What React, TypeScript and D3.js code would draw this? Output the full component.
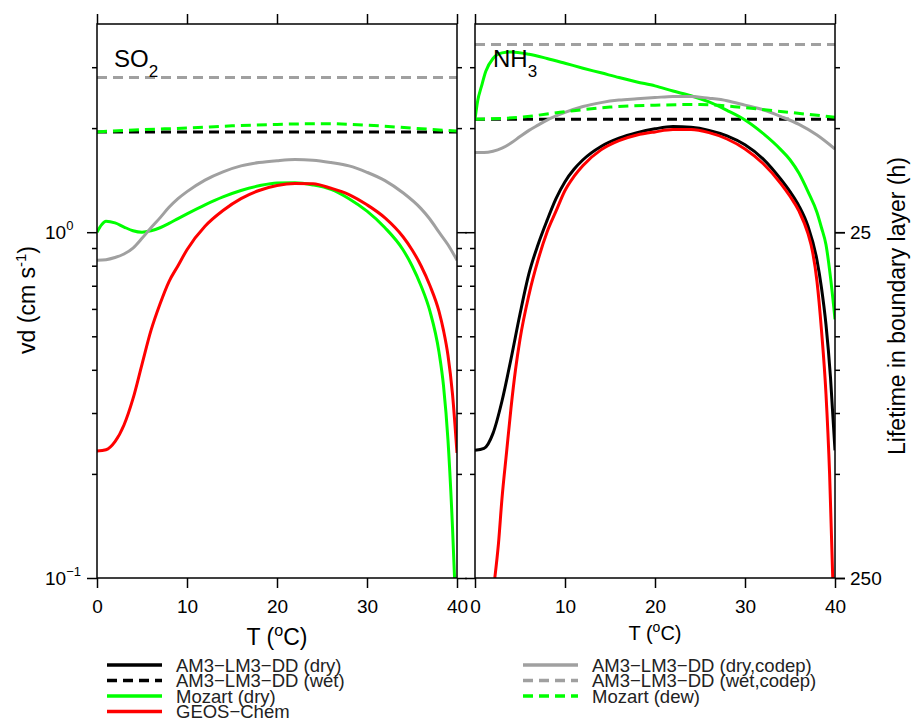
import React, { useEffect, useRef } from 'react';
import * as d3 from 'd3';

// temperature ticks and vd ticks
const tempTicks = [0, 10, 20, 30, 40];
const vdMajor = [0.1, 1];
const vdMinor = [0.2, 0.3, 0.4, 0.5, 0.6, 0.7, 0.8, 0.9, 2, 3];
const lifetimeLabels = ['250', '25'];

// SO2 panel
const so2GeosT = [0, 1, 2, 3, 4, 5, 6, 7, 8, 9, 10, 12, 14, 16, 18, 20, 22, 24, 26, 28, 30, 32, 34, 35, 36, 37, 38, 38.5, 39, 39.5, 40];
const so2GeosV = [0.233, 0.235, 0.248, 0.277, 0.33, 0.415, 0.52, 0.62, 0.72, 0.8, 0.89, 1.04, 1.155, 1.25, 1.32, 1.365, 1.383, 1.38, 1.34, 1.285, 1.2, 1.1, 0.97, 0.89, 0.8, 0.7, 0.59, 0.52, 0.44, 0.34, 0.23];
const so2MozDryT = [0, 0.5, 1, 2, 3, 4, 5, 6, 7, 8, 9, 10, 12, 14, 16, 18, 20, 22, 24, 26, 28, 30, 32, 34, 35, 36, 37, 38, 38.5, 39, 39.5, 39.8];
const so2MozDryV = [1.0, 1.05, 1.076, 1.064, 1.035, 1.01, 1.0, 1.01, 1.03, 1.06, 1.095, 1.13, 1.2, 1.265, 1.32, 1.362, 1.388, 1.39, 1.37, 1.33, 1.25, 1.15, 1.03, 0.89, 0.8, 0.7, 0.59, 0.45, 0.36, 0.25, 0.14, 0.09];
const so2CodepDryT = [0, 1, 2, 3, 4, 5, 6, 7, 8, 9, 10, 12, 14, 16, 18, 20, 22, 24, 26, 28, 30, 32, 34, 36, 37, 38, 39, 40];
const so2CodepDryV = [0.83, 0.833, 0.845, 0.865, 0.9, 0.96, 1.03, 1.1, 1.18, 1.25, 1.31, 1.415, 1.495, 1.555, 1.59, 1.61, 1.622, 1.615, 1.59, 1.555, 1.49, 1.41, 1.3, 1.17, 1.09, 1.0, 0.92, 0.83];
const so2FlatT = [0, 40];
const so2WetV = [1.95, 1.95];
const so2WetCodepV = [2.8, 2.8];
const so2DewT = [0, 5, 10, 15, 20, 25, 30, 35, 40];
const so2DewV = [1.95, 1.98, 2.0, 2.03, 2.05, 2.06, 2.04, 2.0, 1.96];

// NH3 panel
const nh3DryT = [0, 1, 2, 3, 4, 5, 6, 7, 8, 9, 10, 11, 12, 14, 16, 18, 20, 22, 24, 26, 28, 30, 32, 34, 35, 36, 37, 38, 38.5, 39, 39.5, 40];
const nh3DryV = [0.234, 0.237, 0.262, 0.325, 0.43, 0.58, 0.76, 0.92, 1.08, 1.25, 1.4, 1.52, 1.62, 1.77, 1.87, 1.94, 1.99, 2.02, 2.01, 1.97, 1.9, 1.79, 1.63, 1.42, 1.31, 1.19, 1.04, 0.83, 0.69, 0.54, 0.38, 0.234];
const nh3GeosT = [2.2, 2.6, 3, 3.5, 4, 4.5, 5, 6, 7, 8, 9, 10, 11, 12, 14, 16, 18, 20, 22, 24, 26, 28, 30, 32, 34, 35, 36, 37, 37.5, 38, 38.5, 39, 39.4, 39.75];
const nh3GeosV = [0.1, 0.125, 0.17, 0.23, 0.31, 0.4, 0.49, 0.66, 0.83, 1.0, 1.15, 1.32, 1.45, 1.56, 1.73, 1.84, 1.91, 1.95, 1.98, 1.98, 1.94, 1.86, 1.74, 1.58, 1.38, 1.27, 1.15, 0.99, 0.88, 0.72, 0.52, 0.34, 0.2, 0.1];
const nh3MozDryT = [0, 0.3, 0.7, 1.2, 2, 3, 4, 6, 8, 10, 12, 14, 16, 18, 20, 22, 24, 26, 28, 30, 32, 34, 35, 36, 37, 38, 38.5, 39, 39.5, 40];
const nh3MozDryV = [2.12, 2.4, 2.63, 2.92, 3.18, 3.3, 3.32, 3.27, 3.18, 3.08, 2.98, 2.89, 2.8, 2.72, 2.65, 2.56, 2.48, 2.38, 2.25, 2.11, 1.93, 1.73, 1.62, 1.48, 1.31, 1.14, 1.03, 0.92, 0.74, 0.56];
const nh3CodepDryT = [0, 1, 2, 3, 4, 5, 6, 7, 8, 10, 12, 14, 16, 18, 20, 22, 24, 26, 28, 30, 32, 34, 36, 38, 40];
const nh3CodepDryV = [1.7, 1.7, 1.715, 1.75, 1.81, 1.89, 1.97, 2.04, 2.11, 2.22, 2.31, 2.37, 2.41, 2.43, 2.45, 2.47, 2.47, 2.44, 2.4, 2.33, 2.26, 2.16, 2.05, 1.91, 1.74];
const nh3FlatT = [0, 40];
const nh3WetV = [2.12, 2.12];
const nh3WetCodepV = [3.49, 3.49];
const nh3DewT = [0, 5, 10, 15, 20, 25, 30, 35, 40];
const nh3DewV = [2.12, 2.15, 2.23, 2.3, 2.33, 2.34, 2.29, 2.22, 2.15];

const GREEN = '#00ff00';
const RED = '#ff0000';
const GRAY = '#a0a0a0';
const FONT = '"Liberation Sans", Arial, Helvetica, sans-serif';

const legendItems = [
  { label: 'AM3−LM3−DD (dry)', color: '#000', dash: false, col: 0 },
  { label: 'AM3−LM3−DD (wet)', color: '#000', dash: true, col: 0 },
  { label: 'Mozart (dry)', color: GREEN, dash: false, col: 0 },
  { label: 'GEOS−Chem', color: RED, dash: false, col: 0 },
  { label: 'AM3−LM3−DD (dry,codep)', color: GRAY, dash: false, col: 1 },
  { label: 'AM3−LM3−DD (wet,codep)', color: GRAY, dash: true, col: 1 },
  { label: 'Mozart (dew)', color: GREEN, dash: true, col: 1 },
];

const panels = [
  {
    range: [97, 457],
    name: 'SO', sub: '2', nameX: 114,
    series: [
      { t: so2FlatT, v: so2WetV, color: '#000', dash: true },
      { t: so2MozDryT, v: so2MozDryV, color: GREEN, dash: false },
      { t: so2GeosT, v: so2GeosV, color: RED, dash: false },
      { t: so2CodepDryT, v: so2CodepDryV, color: GRAY, dash: false },
      { t: so2FlatT, v: so2WetCodepV, color: GRAY, dash: true },
      { t: so2DewT, v: so2DewV, color: GREEN, dash: true },
    ],
  },
  {
    range: [475, 835],
    name: 'NH', sub: '3', nameX: 493,
    series: [
      { t: nh3DryT, v: nh3DryV, color: '#000', dash: false },
      { t: nh3FlatT, v: nh3WetV, color: '#000', dash: true },
      { t: nh3MozDryT, v: nh3MozDryV, color: GREEN, dash: false },
      { t: nh3GeosT, v: nh3GeosV, color: RED, dash: false },
      { t: nh3CodepDryT, v: nh3CodepDryV, color: GRAY, dash: false },
      { t: nh3FlatT, v: nh3WetCodepV, color: GRAY, dash: true },
      { t: nh3DewT, v: nh3DewV, color: GREEN, dash: true },
    ],
  },
];

export default function App() {
  const ref = useRef<SVGSVGElement>(null);

  useEffect(() => {
    document.body.style.margin = '0';
    const svg = d3.select(ref.current);
    svg.selectAll('*').remove();
    const y = d3.scaleLog().domain([0.1, 4]).range([578, 24]);
    const [yBot, yTop] = y.range();
    const defs = svg.append('defs');

    const styleAxis = (sel: any) => {
      sel.select('.domain').remove();
      sel.selectAll('line').attr('stroke', '#000').attr('stroke-width', 1.5);
      sel.selectAll('text').attr('font-family', FONT).attr('font-size', 19).attr('fill', '#000');
    };

    panels.forEach((p, i) => {
      const x = d3.scaleLinear().domain([0, 40]).range(p.range);
      const g = svg.append('g');
      const clipId = `clip-${i}`;
      defs
        .append('clipPath')
        .attr('id', clipId)
        .append('rect')
        .attr('x', p.range[0])
        .attr('y', yTop)
        .attr('width', p.range[1] - p.range[0])
        .attr('height', yBot - yTop);

      const line = d3
        .line<[number, number]>()
        .x(d => x(d[0]))
        .y(d => y(d[1]))
        .curve(d3.curveMonotoneX);

      g.append('g')
        .attr('clip-path', `url(#${clipId})`)
        .selectAll('path')
        .data(p.series)
        .join('path')
        .attr('d', s => line(d3.zip(s.t, s.v) as [number, number][]))
        .attr('fill', 'none')
        .attr('stroke', s => s.color)
        .attr('stroke-width', 3)
        .attr('stroke-dasharray', s => (s.dash ? '10,6' : null));

      // x axes
      g.append('g')
        .attr('transform', `translate(0,${yBot})`)
        .call(d3.axisBottom(x).tickValues(tempTicks).tickSize(10).tickPadding(12).tickFormat(d3.format('d')))
        .call(styleAxis);
      g.append('g')
        .attr('transform', `translate(0,${yTop})`)
        .call(d3.axisTop(x).tickValues(tempTicks).tickSize(10).tickFormat(() => ''))
        .call(styleAxis);

      // y ticks on both sides
      [
        { pos: p.range[0], mk: d3.axisLeft },
        { pos: p.range[1], mk: d3.axisRight },
      ].forEach(side => {
        g.append('g')
          .attr('transform', `translate(${side.pos},0)`)
          .call(side.mk(y).tickValues(vdMajor).tickSize(10).tickFormat(() => ''))
          .call(styleAxis);
        g.append('g')
          .attr('transform', `translate(${side.pos},0)`)
          .call(side.mk(y).tickValues(vdMinor).tickSize(5).tickFormat(() => ''))
          .call(styleAxis);
      });

      g.append('rect')
        .attr('x', p.range[0])
        .attr('y', yTop)
        .attr('width', p.range[1] - p.range[0])
        .attr('height', yBot - yTop)
        .attr('fill', 'none')
        .attr('stroke', '#000')
        .attr('stroke-width', 1.5);

      const lab = g
        .append('text')
        .attr('x', p.nameX)
        .attr('y', 67)
        .attr('font-family', FONT)
        .attr('font-size', 24)
        .text(p.name);
      lab.append('tspan').attr('dy', 10).attr('font-size', 17).text(p.sub);
    });

    // left axis labels 10^0, 10^-1
    [
      { v: 1, exp: '0' },
      { v: 0.1, exp: '−1' },
    ].forEach(d => {
      const t = svg
        .append('text')
        .attr('x', 45)
        .attr('y', y(d.v) + 7)
        .attr('font-family', FONT)
        .attr('font-size', 19)
        .text('10');
      t.append('tspan').attr('dy', -9).attr('font-size', 13).text(d.exp);
    });

    // right lifetime axis labels
    svg
      .append('g')
      .attr('transform', `translate(835,0)`)
      .call(
        d3
          .axisRight(y)
          .tickValues(vdMajor)
          .tickSize(10)
          .tickPadding(5)
          .tickFormat((_d, i) => lifetimeLabels[i]),
      )
      .call(styleAxis);

    // axis titles
    const vdTitle = svg
      .append('text')
      .attr('transform', 'translate(35,300) rotate(-90)')
      .attr('text-anchor', 'middle')
      .attr('font-family', FONT)
      .attr('font-size', 23)
      .text('vd (cm s');
    vdTitle.append('tspan').attr('dy', -9).attr('font-size', 15).text('-1');
    vdTitle.append('tspan').attr('dy', 9).text(')');

    svg
      .append('text')
      .attr('transform', 'translate(905,306) rotate(-90)')
      .attr('text-anchor', 'middle')
      .attr('font-family', FONT)
      .attr('font-size', 23)
      .text('Lifetime in boundary layer (h)');

    [
      { cx: 277, by: 645, fs: 23 },
      { cx: 655, by: 640, fs: 20 },
    ].forEach(d => {
      const t = svg
        .append('text')
        .attr('x', d.cx)
        .attr('y', d.by)
        .attr('text-anchor', 'middle')
        .attr('font-family', FONT)
        .attr('font-size', d.fs)
        .text('T (');
      t.append('tspan').attr('dy', -d.fs * 0.4).attr('font-size', d.fs * 0.7).text('o');
      t.append('tspan').attr('dy', d.fs * 0.4).text('C)');
    });

    // legend
    const cols = [
      { x0: 107, x1: 162, tx: 176 },
      { x0: 523, x1: 578, tx: 592 },
    ];
    const rowCount = [0, 0];
    legendItems.forEach(item => {
      const c = cols[item.col];
      const yy = 665 + rowCount[item.col] * 15.5;
      rowCount[item.col] += 1;
      svg
        .append('line')
        .attr('x1', c.x0)
        .attr('x2', c.x1)
        .attr('y1', yy)
        .attr('y2', yy)
        .attr('stroke', item.color)
        .attr('stroke-width', 3.5)
        .attr('stroke-dasharray', item.dash ? '10,6' : null);
      svg
        .append('text')
        .attr('x', c.tx)
        .attr('y', yy + 6.5)
        .attr('font-family', FONT)
        .attr('font-size', 18.5)
        .attr('fill', '#222')
        .text(item.label);
    });
  }, []);

  return <svg ref={ref} width={912} height={722} style={{ display: 'block', background: '#fff' }} />;
}
